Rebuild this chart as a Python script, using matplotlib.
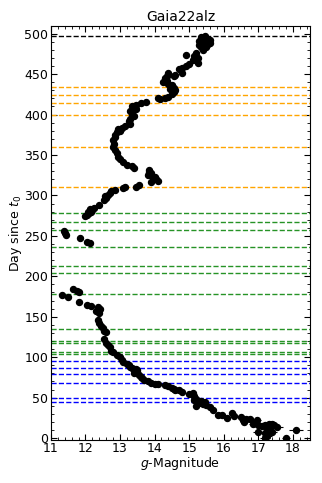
import numpy as np
import matplotlib
matplotlib.use('Agg')
from matplotlib import pyplot as plt
from matplotlib.ticker import AutoMinorLocator

# light curve points (g mag, day since t0)
mag = [15.35, 15.45, 15.5, 15.6, 15.3, 15.4, 15.55, 15.5, 15.35, 15.4, 15.28, 15.6,
       15.2, 15.15, 15.25, 15.1, 15.25, 14.9, 15.0, 14.9, 14.8,
       14.7, 14.8, 14.6, 14.55,
       14.4, 14.35, 14.3, 14.25, 14.35, 14.4, 14.5, 14.45, 14.55, 14.5, 14.4, 14.3,
       14.15, 14.1, 14.55, 14.6,
       13.75, 13.6,
       13.45, 13.35, 13.3, 13.35, 13.4, 13.3, 13.25, 13.3, 13.35, 13.45,
       13.15, 13.05, 12.95, 12.9, 12.85, 13.0,
       12.85, 12.8, 12.83, 12.8, 12.85, 12.9, 12.95,
       13.0, 13.1, 13.2, 13.35, 13.4,
       13.85, 13.9, 13.8, 13.95, 14.05, 14.1, 13.9, 14.0, 13.85,
       13.55, 13.45, 13.15, 13.1, 12.85, 12.75, 12.7,
       12.65, 12.6, 12.55, 12.58, 12.4,
       12.25, 12.2, 12.15, 12.1, 12.05, 12.0, 12.12, 12.08,
       11.38, 11.42, 11.45, 11.85, 12.05, 12.12,
       11.33, 11.5, 11.65, 11.8, 11.75, 11.8, 12.05, 12.15,
       12.35, 12.4, 12.38, 12.42, 12.3,
       12.35, 12.4, 12.45, 12.5, 12.55, 12.6,
       12.55, 12.6, 12.65, 12.7, 12.75, 12.8,
       12.9, 13.0, 13.05, 13.1, 13.2, 13.25, 13.3, 13.4, 13.45, 13.5,
       13.4, 13.55, 13.6, 13.65, 13.7, 13.8, 13.9, 14.0, 13.5, 13.35,
       14.1, 14.3, 14.4, 14.5, 14.6,
       14.55, 14.7, 14.8,
       15.0, 15.1, 15.15, 15.2, 15.25, 15.3, 15.15, 15.35, 15.4, 15.45, 15.2,
       15.48, 15.6, 15.7,
       15.85, 15.95, 16.1, 16.25, 16.3,
       16.5, 16.55, 16.65, 16.75, 16.6, 16.85, 16.95,
       17.0, 17.1, 17.2, 17.3, 17.35, 17.4, 17.25, 17.45, 17.55,
       17.0, 17.2, 17.25, 17.2, 17.4, 17.8, 18.1]

day = [496, 497, 494, 492, 491, 489, 487, 484, 483, 480, 486, 488,
       476, 473, 470, 467, 464, 474, 463, 460, 458,
       456, 452, 449, 448,
       452, 448, 445, 440, 442, 438, 436, 432, 428, 425, 422, 420,
       419, 420, 433, 430,
       416, 414,
       412, 410, 405, 402, 398, 395, 392, 388, 400, 407,
       386, 384, 382, 378, 375, 380,
       372, 368, 364, 360, 356, 352, 348,
       345, 341, 338, 337, 334,
       332, 328, 325, 322, 320, 318, 317, 323, 329,
       313, 311, 310, 309, 307, 305, 303,
       301, 297, 294, 299, 288,
       285, 282, 280, 278, 276, 274, 283, 279,
       256, 253, 251, 247, 243, 241,
       177, 174, 184, 180, 182, 168, 165, 163,
       162, 158, 155, 160, 157,
       146, 142, 138, 136, 133, 131,
       122, 118, 115, 112, 108, 106,
       103, 100, 97, 94, 91, 90, 88, 86, 85, 82,
       80, 78, 76, 74, 72, 70, 68, 67, 84, 87,
       67, 66, 64, 62, 60,
       61, 59, 57,
       55, 56, 52, 48, 45, 43, 47, 46, 42, 44, 40,
       41, 38, 35,
       29, 28, 25, 31, 27,
       26, 22, 24, 23, 20, 17, 22,
       16, 15, 16, 17, 14, 18, 12, 16, 14,
       7, 6, 2, 0, 7, 0, 10]

# errors of the faint tail (last 28 points); brighter ones are tiny
faint_err = [0.05, 0.05, 0.06, 0.06, 0.07,
             0.08, 0.08, 0.09, 0.1, 0.1, 0.12, 0.12,
             0.15, 0.14, 0.15, 0.13, 0.16, 0.15, 0.16, 0.15, 0.18,
             0.16, 0.15, 0.14, 0.15, 0.14, 0.12, 0.2]
mag_err = [0.03] * (len(mag) - len(faint_err)) + faint_err

# dashed reference epochs
days_black = [497]
days_orange = [434, 424, 414, 399, 360, 310]
days_green = [278.5, 267.5, 257, 236.5, 213, 204, 178, 135, 119.5, 117, 106, 103.5]
days_blue = [95, 86.5, 79.5, 68.5, 49, 44.5]

fig = plt.figure(figsize=(3.22, 4.83), dpi=100)
ax = fig.add_axes([0.158, 0.088, 0.805, 0.859])

for d in days_black:
    ax.axhline(d, color='black', ls='--', lw=1)
for d in days_orange:
    ax.axhline(d, color='orange', ls='--', lw=1)
for d in days_green:
    ax.axhline(d, color='green', ls='--', lw=1, alpha=0.85)
for d in days_blue:
    ax.axhline(d, color='blue', ls='--', lw=1)

ax.errorbar(mag, day, xerr=mag_err, fmt='o', color='black',
            ms=4.3, elinewidth=0.8, capsize=0, zorder=3)

ax.set_xlim(11, 18.5)
ax.set_ylim(-3, 510)
ax.set_xticks(np.arange(11, 19, 1))
ax.set_yticks(np.arange(0, 501, 50))
ax.xaxis.set_minor_locator(AutoMinorLocator(5))
ax.yaxis.set_minor_locator(AutoMinorLocator(5))
ax.tick_params(which='both', direction='in', top=True, right=True, labelsize=9)
ax.tick_params(axis='x', which='major', length=4, pad=1)
ax.tick_params(axis='y', which='major', length=4, pad=2)
ax.tick_params(which='minor', length=2)

ax.set_xlabel(r'$g$-Magnitude', fontsize=9, labelpad=0)
ax.set_ylabel(r'Day since $t_0$', fontsize=9, labelpad=0)
ax.set_title('Gaia22alz', fontsize=10, pad=3)

plt.savefig('out.png', dpi=100)
